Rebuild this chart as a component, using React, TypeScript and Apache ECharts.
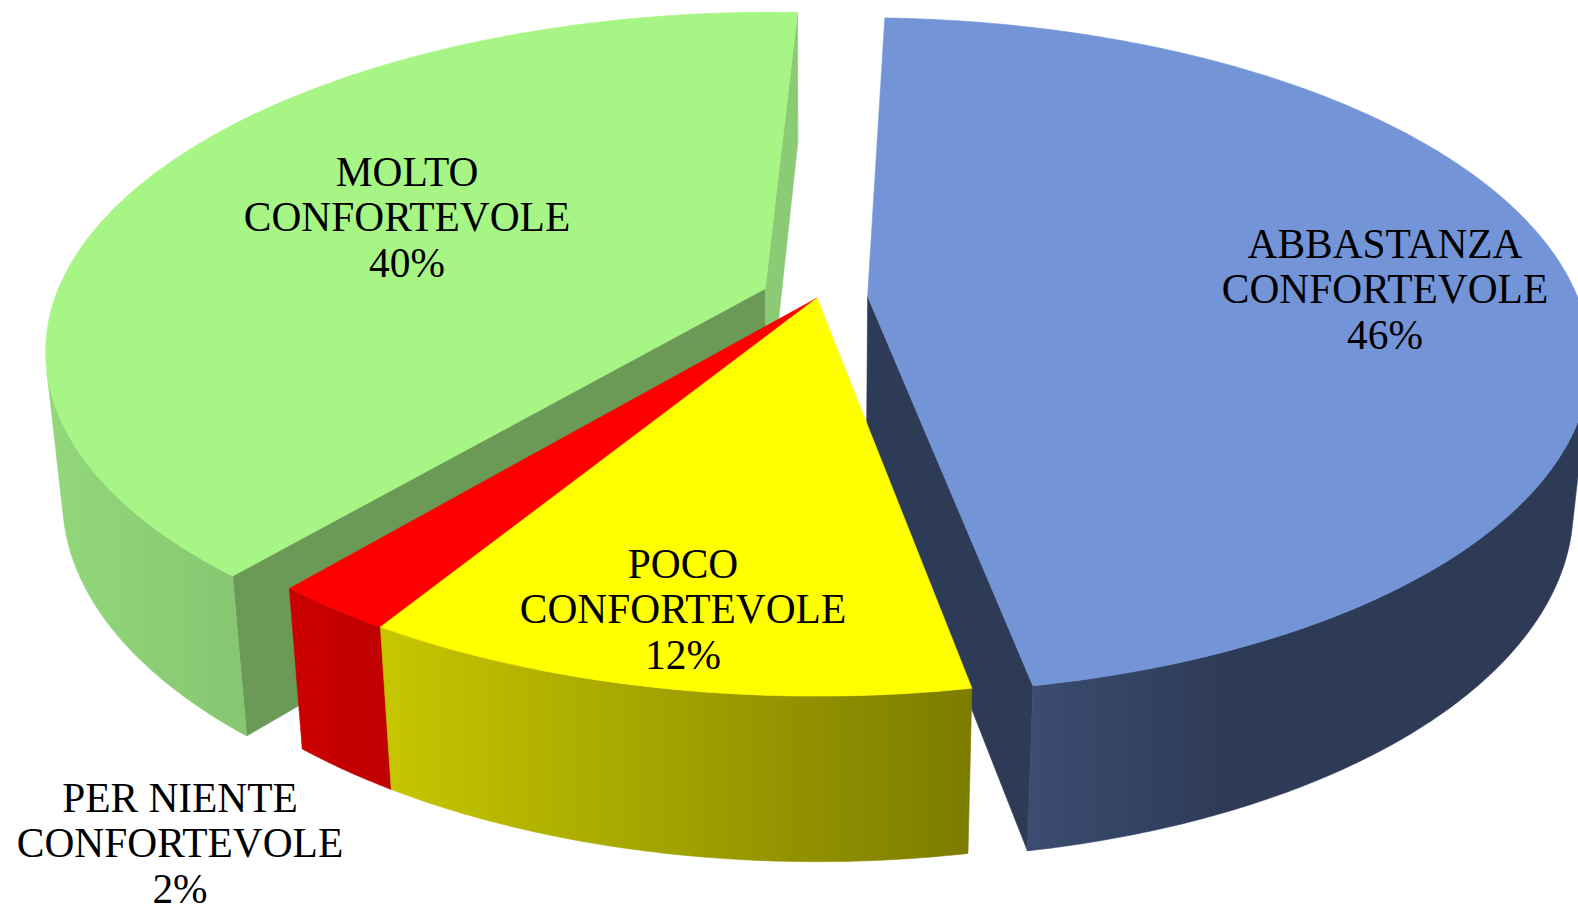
import React, { useEffect, useRef } from "react";
import * as echarts from "echarts";

const categories = ["ABBASTANZA\nCONFORTEVOLE", "POCO\nCONFORTEVOLE", "PER NIENTE\nCONFORTEVOLE", "MOLTO\nCONFORTEVOLE"];
const values = [46.46, 11.64, 2.36, 39.54];
const exploded = [1, 0, 0, 1.1];
const drawOrder = [0, 3, 2, 1];
const topColors = ["#7395D8", "#FFFF00", "#FF0000", "#A6F585"];
const cutColors = ["#2E3B57", "#7F7F00", "#C40000", "#6A9A56"];
const endCutColors = ["#2E3B57", "#7F7F00", "#C40000", "#8CCB75"];
const wallStops = [
  ["#3A4C70", "#2E3B57"],
  ["#C6C600", "#7C7C00"],
  ["#CA0000", "#BE0000"],
  ["#93D87B", "#86C571"],
];
const wallRange = [
  [1030, 1230],
  [385, 970],
  [300, 395],
  [45, 250],
];
const labelCentres = [
  [1385, 289],
  [683, 609],
  [180, 843],
  [407, 217],
];

// Perspective model of the pie
const CX = 817;
const CY = 298;
const FOCAL = 3587;
const DIST = 5.05;
const SIN_E = 0.462;
const COS_E = 0.887;
const HEIGHT = 0.236;
const EXPLODE = 0.0715;
const START_DEG = 2.35;

const project = (x: number, y: number, z: number) => {
  const depth = DIST - y * COS_E - z * SIN_E;
  return [CX + (FOCAL * x) / depth, CY + (FOCAL * (y * SIN_E - z * COS_E)) / depth];
};

const total = values.reduce((a, b) => a + b, 0);

function sliceShapes(i: number) {
  const before = values.slice(0, i).reduce((a, b) => a + b, 0);
  const a0 = START_DEG + (before / total) * 360;
  const a1 = a0 + (values[i] / total) * 360;
  const mid = ((a0 + a1) / 2) * (Math.PI / 180);
  const ox = exploded[i] * EXPLODE * Math.sin(mid);
  const oy = exploded[i] * EXPLODE * -Math.cos(mid);
  const pt = (deg: number, z: number) => {
    const t = (deg * Math.PI) / 180;
    return project(ox + Math.sin(t), oy - Math.cos(t), z);
  };
  const apexTop = project(ox, oy, 0);
  const apexBot = project(ox, oy, -HEIGHT);
  const angles: number[] = [];
  const n = Math.max(4, Math.ceil((a1 - a0) * 2));
  for (let k = 0; k <= n; k++) angles.push(a0 + ((a1 - a0) * k) / n);
  const top = angles.map((a) => pt(a, 0));
  const visible = angles.filter((a) => {
    const t = (a * Math.PI) / 180;
    const nx = Math.sin(t);
    const ny = -Math.cos(t);
    const px = ox + nx;
    const py = oy + ny;
    return -px * nx + (DIST * COS_E - py) * ny > 0;
  });
  const wall = visible.length > 1
    ? [...visible.map((a) => pt(a, 0)), ...[...visible].reverse().map((a) => pt(a, -HEIGHT))]
    : null;
  const cutStart = [apexTop, pt(a0, 0), pt(a0, -HEIGHT), apexBot];
  const cutEnd = [apexTop, pt(a1, 0), pt(a1, -HEIGHT), apexBot];
  return { top: [apexTop, ...top], wall, cutStart, cutEnd, apexTop };
}

const isFacing = (poly: number[][], sign: number) => {
  let area = 0;
  for (let k = 0; k < poly.length; k++) {
    const p = poly[k];
    const q = poly[(k + 1) % poly.length];
    area += p[0] * q[1] - q[0] * p[1];
  }
  return area * sign > 0;
};

const poly = (points: number[][], fill: any, z2: number) => ({
  type: "polygon",
  z2,
  silent: true,
  shape: { points },
  style: { fill, stroke: fill, lineWidth: 0.6 },
});

const renderItem = (params: any, api: any) => {
  const i = api.value(0);
  const rank = params.dataIndex * 10;
  const s = sliceShapes(i);
  const children: any[] = [];
  if (isFacing(s.cutStart, -1)) children.push(poly(s.cutStart, cutColors[i], rank + 1));
  if (isFacing(s.cutEnd, 1)) children.push(poly(s.cutEnd, endCutColors[i], rank + 1));
  if (s.wall) {
    const grad = new echarts.graphic.LinearGradient(
      wallRange[i][0], 0, wallRange[i][1], 0,
      [
        { offset: 0, color: wallStops[i][0] },
        { offset: 1, color: wallStops[i][1] },
      ],
      true,
    );
    children.push(poly(s.wall, grad, rank + 2));
  }
  children.push(poly(s.top, topColors[i], rank + 3));
  children.push({
    type: "text",
    z2: 200,
    silent: true,
    x: labelCentres[i][0],
    y: labelCentres[i][1],
    style: {
      text: `${categories[i]}\n${Math.round(values[i])}%`,
      fill: "#000000",
      font: '41.4px "Liberation Serif"',
      lineHeight: 45.5,
      align: "center",
      verticalAlign: "middle",
    },
  });
  return { type: "group", children };
};

export default function App() {
  const ref = useRef<HTMLDivElement>(null);
  useEffect(() => {
    const chart = echarts.init(ref.current!, undefined, { renderer: "svg" });
    chart.setOption({
      animation: false,
      backgroundColor: "#FFFFFF",
      series: [
        {
          type: "custom",
          coordinateSystem: "none",
          renderItem,
          data: drawOrder.map((i) => [i, values[i]]),
        },
      ],
    });
    return () => chart.dispose();
  }, []);
  return <div ref={ref} style={{ position: "fixed", left: 0, top: 0, width: 1578, height: 905 }} />;
}
